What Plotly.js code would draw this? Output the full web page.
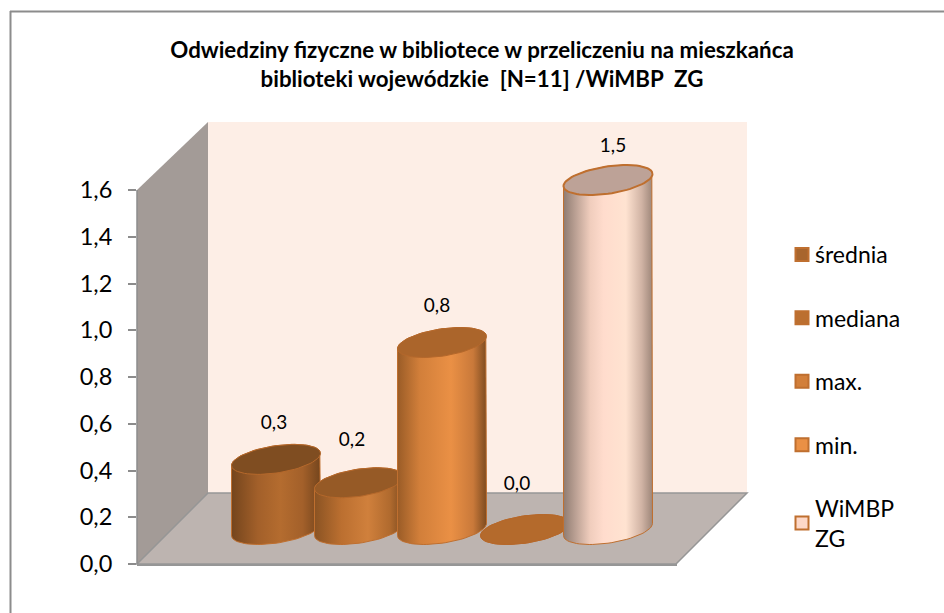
<!DOCTYPE html>
<html><head><meta charset="utf-8">
<script src="https://cdn.plot.ly/plotly-3.0.1.min.js"></script>
<style>html,body{margin:0;padding:0;background:#fff}#c{width:944px;height:613px}</style>
</head><body><div id="c"></div>
<script>
// ---- data ----
const seriesNames = ['średnia','mediana','max.','min.','WiMBP<br>ZG'];
const seriesValues = [0.30,0.20,0.80,0.00,1.495];
const valueTicks = [0,0.2,0.4,0.6,0.8,1.0,1.2,1.4,1.6];
const chartTitle = 'Odwiedziny fizyczne w bibliotece w przeliczeniu na mieszkańca<br>biblioteki wojewódzkie \u00a0[N=11] /WiMBP \u00a0ZG';
// ---- styles ----
const sideColors = [
 [[0,'#74451d'],[0.3,'#a3602a'],[0.55,'#b46c2f'],[0.8,'#a3602a'],[1,'#74451d']],
 [[0,'#8a5323'],[0.3,'#bb6f30'],[0.6,'#d0803c'],[0.85,'#b06a2e'],[1,'#7d4b20']],
 [[0,'#9a5c27'],[0.25,'#d27f3a'],[0.6,'#ea9045'],[0.85,'#c9793a'],[1,'#7d4b20']],
 [[0,'#b46a2c'],[1,'#b46a2c']],
 [[0,'#8f7c72'],[0.3,'#f0cdbd'],[0.45,'#ffdccd'],[0.7,'#ffe3d1'],[0.88,'#d0b3a4'],[1,'#9d8679']]
];
const topColors = ['#7f4d21','#965a26','#ab652b','#b46a2c','#bda297'];
const swatchColors = ['#a8652d','#bb6f30','#d27f3a','#ea9045','#fdd8c8'];
const edge = '#bf6f2f';
const font = 'Lato, "Open Sans", sans-serif';
// ---- geometry (pixels of the drawing) ----
const L=137,R=677,T=122,B=564,Y16=190;
const pxX=(R-L)/6.506, pxY=(B-Y16)/1.6;
const floorLevel=34.5/pxY;
const halfW=44.5/pxX, halfH=15/pxY, phi=66*Math.PI/180;
const labelDx=[-2,-7,-5,-8,5], labelDy=[35,41.5,35.5,44,33];
const ex=(t)=>halfW*Math.cos(t), ey=(t)=>halfH*Math.cos(t-phi);
function ellipse(cx,cy){const xs=[],ys=[];for(let i=0;i<=72;i++){const t=i/72*2*Math.PI;xs.push(cx+ex(t));ys.push(cy+ey(t));}return {x:xs,y:ys};}
function body(cx,top){const xs=[],ys=[];
 for(let i=0;i<=36;i++){const t=Math.PI+i/36*Math.PI;xs.push(cx+ex(t));ys.push(floorLevel+ey(t));}
 for(let i=0;i<=36;i++){const t=2*Math.PI+i/36*Math.PI;xs.push(cx+ex(t));ys.push(top+ey(t));}
 xs.push(xs[0]);ys.push(ys[0]);return {x:xs,y:ys};}
const traces=[];
seriesValues.forEach((v,i)=>{
 const cx=i, top=floorLevel+v;
 const b=body(cx,top), e=ellipse(cx,top);
 traces.push({type:'scatter',mode:'lines',x:b.x,y:b.y,fill:'toself',fillgradient:{type:'horizontal',colorscale:sideColors[i]},
   line:{color:edge,width:1},cliponaxis:false,hoverinfo:'skip',showlegend:false});
 traces.push({type:'scatter',mode:'lines',x:e.x,y:e.y,fill:'toself',fillcolor:topColors[i],
   line:{color:i==4?edge:'#b5682b',width:i==4?2:1},cliponaxis:false,hoverinfo:'skip',showlegend:false});
});
traces.push({type:'scatter',mode:'text',cliponaxis:false,showlegend:false,hoverinfo:'skip',
  x:seriesValues.map((v,i)=>i+labelDx[i]/pxX),
  y:seriesValues.map((v,i)=>floorLevel+v+labelDy[i]/pxY),
  text:seriesValues.map(v=>v.toFixed(1).replace('.',',')),
  textposition:'middle center',textfont:{family:font,size:19,color:'#000'}});
seriesNames.forEach((n,i)=>{
 traces.push({type:'scatter',mode:'markers',name:n,x:[null],y:[null],legendgroup:'g'+i,
   marker:{symbol:'square',size:13,color:swatchColors[i],line:{color:edge,width:2}}});
});
const px=(x)=>(x-L)/(R-L), py=(y)=>(B-y)/(B-T);
const poly=(pts)=>'M'+pts.map(p=>px(p[0]).toFixed(5)+','+py(p[1]).toFixed(5)).join('L')+'Z';
const shapes=[
 {type:'line',xref:'paper',yref:'paper',x0:px(10.5),x1:px(10.5),y0:py(11),y1:py(613),line:{color:'#8c8c8c',width:2},layer:'below'},
 {type:'line',xref:'paper',yref:'paper',x0:px(10),x1:px(944),y0:py(11.5),y1:py(11.5),line:{color:'#8c8c8c',width:2},layer:'below'},
 {type:'path',xref:'paper',yref:'paper',path:poly([[208,122],[747,122],[747,493],[208,493]]),fillcolor:'#fdeee6',line:{width:0},layer:'below'},
 {type:'path',xref:'paper',yref:'paper',path:poly([[137,190],[208,122],[208,493],[137,564]]),fillcolor:'#a39b97',line:{width:0},layer:'below'},
 {type:'path',xref:'paper',yref:'paper',path:poly([[137,564],[208,493],[747,493],[676,564]]),fillcolor:'#bdb4b0',line:{color:'#969696',width:1.5},layer:'below'},
 {type:'line',xref:'paper',yref:'y',x0:0,x1:0,y0:0,y1:1.6,line:{color:'#8c8c8c',width:1.5},layer:'above'}
];
const layout={
 width:944,height:613,paper_bgcolor:'#fff',plot_bgcolor:'rgba(0,0,0,0)',
 margin:{l:L,r:944-R,t:T,b:613-B,pad:0},separators:',.',
 font:{family:font,color:'#000'},
 title:{text:chartTitle,font:{family:font,size:22.3,weight:700,color:'#000'},x:0.5106,xanchor:'center',y:0.9054,yanchor:'top'},
 xaxis:{range:[(L-276)/pxX,(R-276)/pxX],showgrid:false,zeroline:false,showticklabels:false,ticks:'',showline:true,linecolor:'#969696',linewidth:2},
 yaxis:{range:[0,(B-T)/pxY],tickmode:'array',tickvals:valueTicks,tickformat:'.1f',showgrid:false,zeroline:false,ticks:'outside',ticklen:8,tickcolor:'#8c8c8c',tickwidth:1.5,
   ticklabelstandoff:11,showline:false,tickfont:{family:font,size:23.5,color:'#000'}},
 legend:{x:px(775),xanchor:'left',y:py(233),yanchor:'top',bgcolor:'rgba(0,0,0,0)',font:{family:font,size:23,color:'#000'},tracegroupgap:30.5,itemclick:false,itemdoubleclick:false},
 shapes:shapes,showlegend:true
};
Plotly.newPlot('c',traces,layout,{displayModeBar:false,responsive:false}).then(gd=>{
 gd.querySelectorAll('.legendsymbols').forEach(g=>g.setAttribute('transform','translate(7,0)'));
});
</script></body></html>
